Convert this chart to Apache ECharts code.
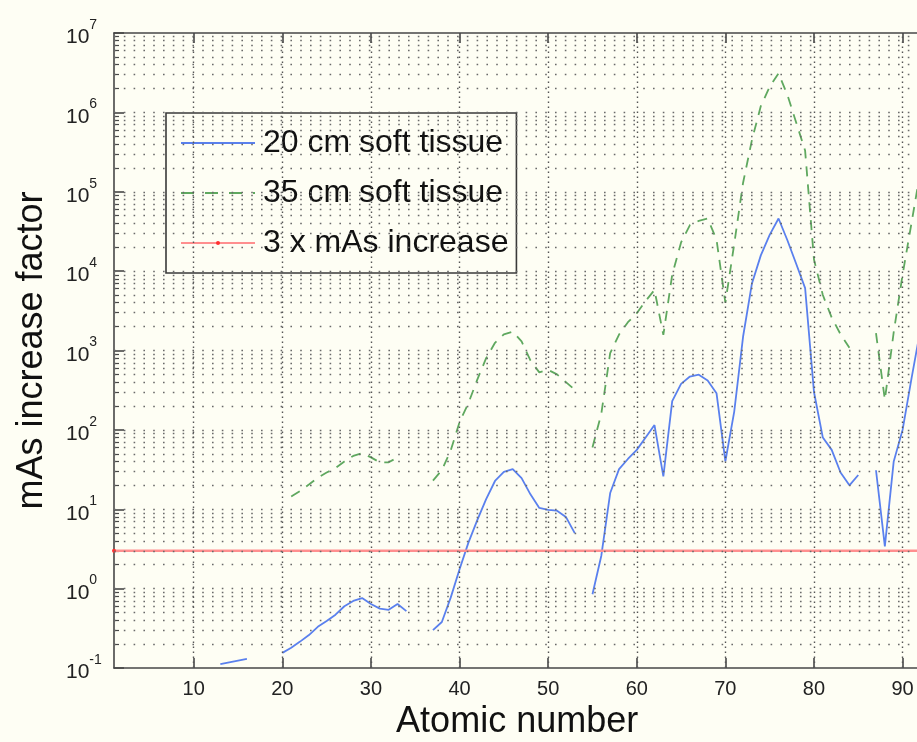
<!DOCTYPE html>
<html>
<head>
<meta charset="utf-8">
<style>
  html, body { margin: 0; padding: 0; background: #fefef4; }
  #chart { width: 917px; height: 742px; }
</style>
<script src="https://cdn.jsdelivr.net/npm/echarts@6/dist/echarts.min.js"></script>
</head>
<body>
<div id="chart"></div>
<script>
// ---- data ----
const atomicNumber = [
  13,14,15,16,17,18,19,20,21,22,23,24,25,26,27,28,29,30,31,32,
  33,34,35,36,37,38,39,40,41,42,43,44,45,46,47,48,49,50,51,52,
  53,54,55,56,57,58,59,60,61,62,63,64,65,66,67,68,69,70,71,72,
  73,74,75,76,77,78,79,80,81,82,83,84,85,86,87,88,89,90,91,92
];
const softTissue20cm = [
  0.112,0.118,0.124,0.13,null,null,null,0.155,0.18,0.215,0.26,0.33,0.39,0.47,0.6,0.7,0.76,0.64,0.56,0.54,
  0.64,0.52,null,null,0.3,0.38,0.77,1.75,3.8,7.3,13.4,22.7,29.5,32,24.7,15.4,10.4,9.8,9.6,8.0,
  5.0,null,0.85,2.6,16,32,43,56,80,115,26,230,380,470,495,420,290,40,170,1500,
  7000,15800,28600,46000,24500,12300,6100,300,80,56,29,20,27,null,31,3.4,40,100,440,1800
];
const softTissue35cm = [
  null,null,null,null,null,null,null,null,14.5,17,20.5,25,29,33,40,47,51,45,39,39,
  45,null,null,null,23,31,55,125,217,430,800,1250,1600,1730,1300,750,530,570,500,400,
  320,null,60,160,925,1590,2270,2950,4200,5800,1570,9000,23000,38000,43000,46000,25000,4000,22000,130000,
  450000,1200000,2100000,3100000,1660000,740000,330000,14000,5000,2600,1600,1080,null,null,1650,240,1700,9000,40000,180000
];
const mAsIncrease = [[1, 3], [92, 3]];
const xTickValues = [10, 20, 30, 40, 50, 60, 70, 80, 90];
const yDecadeExponents = [-1, 0, 1, 2, 3, 4, 5, 6, 7];
const seriesNames = ['20 cm soft tissue', '35 cm soft tissue', '3 x mAs increase'];

// ---- derived helpers ----
const decadeValues = yDecadeExponents.map(e => Math.pow(10, e));
const minorValues = [];
yDecadeExponents.slice(0, -1).forEach(e => {
  for (let k = 2; k <= 9; k++) minorValues.push(+(k * Math.pow(10, e)).toPrecision(3));
});

const hDot = { color: '#6a6a6a', width: 1.4, type: [1.6, 8.2] };
const vDot = { color: '#555', width: 1.4, type: [1.6, 3.4] };
const gridLines = [];
minorValues.concat(decadeValues.slice(1, -1)).forEach(v => gridLines.push({ yAxis: v, lineStyle: hDot }));
xTickValues.forEach(v => gridLines.push({ xAxis: v, lineStyle: vDot }));

const font = '"Liberation Sans", Arial, sans-serif';
const frame = { color: '#474747', width: 1.6 };
const noMarker = { color: 'rgba(0,0,0,0)', borderColor: 'rgba(0,0,0,0)', borderWidth: 0, opacity: 0 };

const chart = echarts.init(document.getElementById('chart'));
chart.setOption({
  animation: false,
  backgroundColor: '#fefef4',
  textStyle: { fontFamily: font },
  grid: {
    left: 114, top: 33, width: 806.3, height: 635,
    show: true, backgroundColor: '#fefef4', borderWidth: 0,
    containLabel: false, outerBoundsMode: 'none'
  },
  legend: {
    data: [
      { name: seriesNames[0], itemStyle: noMarker },
      { name: seriesNames[1], itemStyle: noMarker, lineStyle: { type: [13, 11] } },
      { name: seriesNames[2] }
    ],
    orient: 'vertical',
    left: 166, top: 113,
    padding: [13, 8, 13, 14],
    itemGap: 16,
    itemWidth: 74,
    itemHeight: 5,
    backgroundColor: '#fefef4',
    borderColor: '#3a3a3a',
    borderWidth: 1.6,
    borderRadius: 0,
    textStyle: { fontFamily: font, fontSize: 32, color: '#111', lineHeight: 34, padding: [0, 0, 0, 3] }
  },
  xAxis: [{
    type: 'value', min: 1, max: 92, position: 'bottom',
    name: 'Atomic number', nameLocation: 'middle', nameGap: 33,
    nameTextStyle: { fontFamily: font, fontSize: 36, color: '#111' },
    axisLine: { show: true, onZero: false, lineStyle: frame },
    axisTick: { show: true, inside: true, length: 10, customValues: xTickValues, lineStyle: frame },
    axisLabel: { customValues: xTickValues, fontSize: 20, color: '#222', margin: 11, fontFamily: font },
    splitLine: { show: false }
  }, {
    type: 'value', min: 1, max: 92, position: 'top',
    axisLine: { show: true, onZero: false, lineStyle: frame },
    axisTick: { show: true, inside: true, length: 10, customValues: xTickValues, lineStyle: frame },
    axisLabel: { show: false },
    splitLine: { show: false }
  }],
  yAxis: [{
    type: 'log', logBase: 10, min: 0.1, max: 1e7, position: 'left',
    name: 'mAs increase factor', nameLocation: 'middle', nameGap: 64, nameRotate: 90,
    nameTextStyle: { fontFamily: font, fontSize: 36, color: '#111' },
    axisLine: { show: true, onZero: false, lineStyle: frame },
    axisTick: { show: true, inside: true, length: 10, customValues: decadeValues, lineStyle: frame },
    axisLabel: {
      customValues: decadeValues,
      align: 'left', margin: 48,
      formatter: v => '{b|10}{s|' + Math.round(Math.log10(v)) + '}',
      rich: {
        b: { fontFamily: font, fontSize: 21, color: '#222', lineHeight: 30, verticalAlign: 'bottom' },
        s: { fontFamily: font, fontSize: 14, color: '#222', lineHeight: 14, verticalAlign: 'top' }
      }
    },
    splitLine: { show: false }
  }, {
    type: 'log', logBase: 10, min: 0.1, max: 1e7, position: 'left',
    axisLine: { show: false },
    axisTick: { show: true, inside: true, length: 5, customValues: minorValues, lineStyle: { color: '#474747', width: 1.2 } },
    axisLabel: { show: false },
    splitLine: { show: false }
  }],
  series: [{
    name: 'gridlines', type: 'line', data: [], silent: true, z: 1,
    markLine: {
      silent: true, symbol: ['none', 'none'], animation: false,
      label: { show: false }, emphasis: { disabled: true },
      data: gridLines
    }
  }, {
    name: seriesNames[0], type: 'line', z: 3,
    data: atomicNumber.map((z, i) => [z, softTissue20cm[i]]),
    connectNulls: false, symbol: 'none', showSymbol: false,
    color: '#5a80ee',
    lineStyle: { color: '#5a80ee', width: 1.8 },
    emphasis: { disabled: true }
  }, {
    name: seriesNames[1], type: 'line', z: 3,
    data: atomicNumber.map((z, i) => [z, softTissue35cm[i]]),
    connectNulls: false, symbol: 'none', showSymbol: false,
    color: '#5fa85f',
    lineStyle: { color: '#5fa85f', width: 1.8, type: [10, 8] },
    emphasis: { disabled: true }
  }, {
    name: seriesNames[2], type: 'line', z: 3,
    data: mAsIncrease,
    symbol: 'circle', symbolSize: 4, showSymbol: true,
    itemStyle: { color: '#ff3030' },
    color: '#ff8a8a',
    lineStyle: { color: '#ff8f8f', width: 2.6 },
    emphasis: { disabled: true }
  }]
});
</script>
</body>
</html>
